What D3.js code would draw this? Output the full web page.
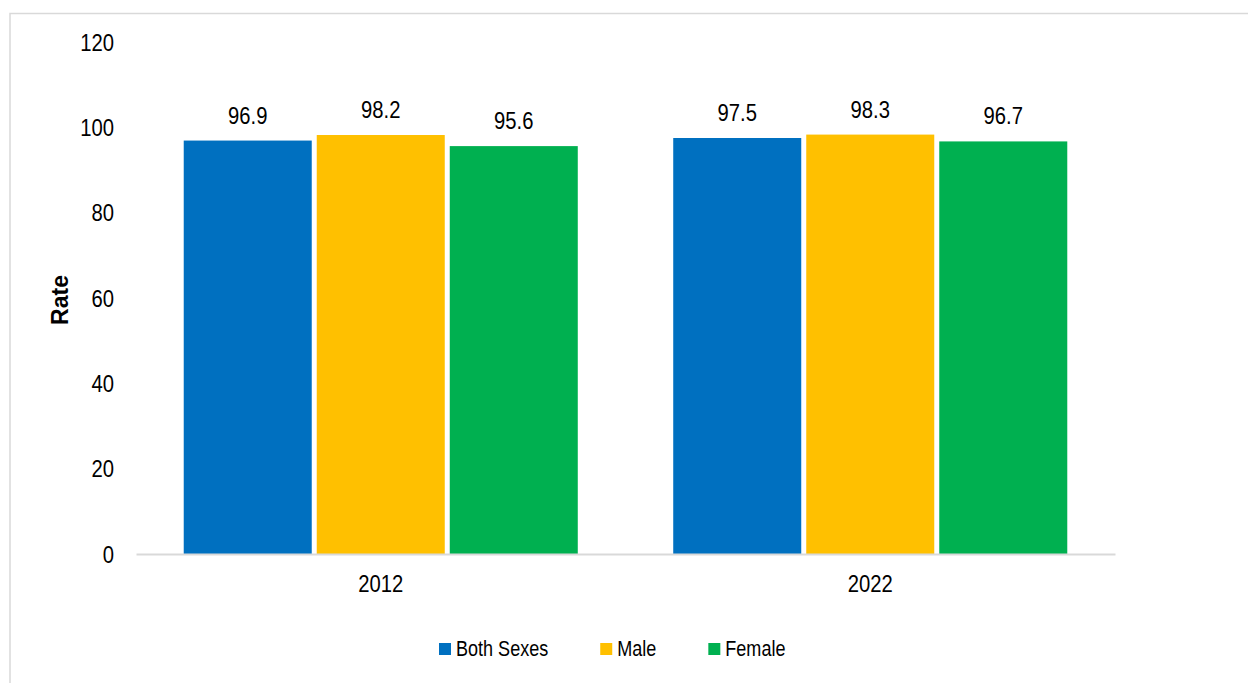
<!DOCTYPE html>
<html>
<head>
<meta charset="utf-8">
<script src="https://cdn.jsdelivr.net/npm/d3@7"></script>
<style>
  html, body { margin: 0; padding: 0; background: #fff; }
  svg { display: block; }
  text { font-family: "Liberation Sans", Arial, sans-serif; fill: #000; }
</style>
</head>
<body>
<svg id="chart" width="1248" height="683"></svg>
<script>
const years = ["2012", "2022"];
const seriesNames = ["Both Sexes", "Male", "Female"];
const bothSexes = [96.9, 97.5];
const male = [98.2, 98.3];
const female = [95.6, 96.7];
const yTicks = [0, 20, 40, 60, 80, 100, 120];
const colors = ["#0070C0", "#FFC000", "#00B050"];

const seriesValues = [bothSexes, male, female];
const data = years.map((yr, i) => ({
  year: yr,
  values: seriesNames.map((s, j) => ({ series: s, value: seriesValues[j][i], color: colors[j] }))
}));

const SX = 0.88;   // narrow text look for axis/value labels
const SXL = 0.82;  // legend
const FS = 23;
const svg = d3.select("#chart");
const W = 1248, H = 683;
const plotLeft = 136, plotRight = 1115, plotTop = 42, plotBottom = 554;

// outer border
svg.append("rect")
  .attr("x", 10).attr("y", 13.5)
  .attr("width", W + 20).attr("height", H + 20)
  .attr("fill", "none").attr("stroke", "#d9d9d9").attr("stroke-width", 1.5);

const y = d3.scaleLinear().domain([0, 120]).range([plotBottom, plotTop]);
const x0 = d3.scaleBand().domain(years).range([plotLeft, plotRight]).paddingInner(0.195).paddingOuter(0.0975);
const x1 = d3.scaleBand().domain(seriesNames).range([0, x0.bandwidth()]).paddingInner(0.0376).paddingOuter(0);

// y axis labels
const yAxis = d3.axisLeft(y).tickValues(yTicks).tickSize(0).tickPadding(0);
const gy = svg.append("g").attr("transform", `translate(114,0)`).call(yAxis);
gy.select(".domain").remove();
gy.selectAll("text").attr("font-size", FS).attr("font-family", null).attr("fill", "#000")
  .attr("x", 0).attr("dy", "0.36em").attr("transform", `scale(${SX},1)`);

// bars
const groups = svg.append("g").selectAll("g").data(data).join("g")
  .attr("transform", d => `translate(${x0(d.year)},0)`);
groups.selectAll("rect").data(d => d.values).join("rect")
  .attr("x", d => x1(d.series))
  .attr("y", d => y(d.value))
  .attr("width", x1.bandwidth())
  .attr("height", d => y(0) - y(d.value))
  .attr("fill", d => d.color);
groups.selectAll("text.val").data(d => d.values).join("text")
  .attr("class", "val")
  .attr("transform", d => `translate(${x1(d.series) + x1.bandwidth() / 2},${y(d.value) - 17}) scale(${SX},1)`)
  .attr("text-anchor", "middle")
  .attr("font-size", FS)
  .text(d => d.value.toFixed(1));

// x axis
const xAxis = d3.axisBottom(x0).tickSize(0).tickPadding(0);
const gx = svg.append("g").attr("transform", `translate(0,${plotBottom})`).call(xAxis);
gx.select(".domain").attr("stroke", "#d9d9d9").attr("stroke-width", 2);
gx.selectAll("text").attr("font-size", FS).attr("font-family", null).attr("fill", "#000")
  .attr("dy", null).attr("y", 38).attr("transform", `scale(${SX},1)`);

// axis title
svg.append("text")
  .attr("transform", "translate(68,300) rotate(-90)")
  .attr("text-anchor", "middle")
  .attr("font-size", 23)
  .attr("font-weight", "bold")
  .text("Rate");

// legend
const legend = svg.append("g");
let lx = 439;
seriesNames.forEach((s, i) => {
  const g = legend.append("g").attr("transform", `translate(${lx},0)`);
  g.append("rect").attr("x", 0).attr("y", 643).attr("width", 12).attr("height", 12).attr("fill", colors[i]);
  const t = g.append("text").attr("transform", `translate(17,656) scale(${SXL},1)`).attr("font-size", 22).text(s);
  lx += 17 + t.node().getComputedTextLength() * SXL + 52;
});
</script>
</body>
</html>
